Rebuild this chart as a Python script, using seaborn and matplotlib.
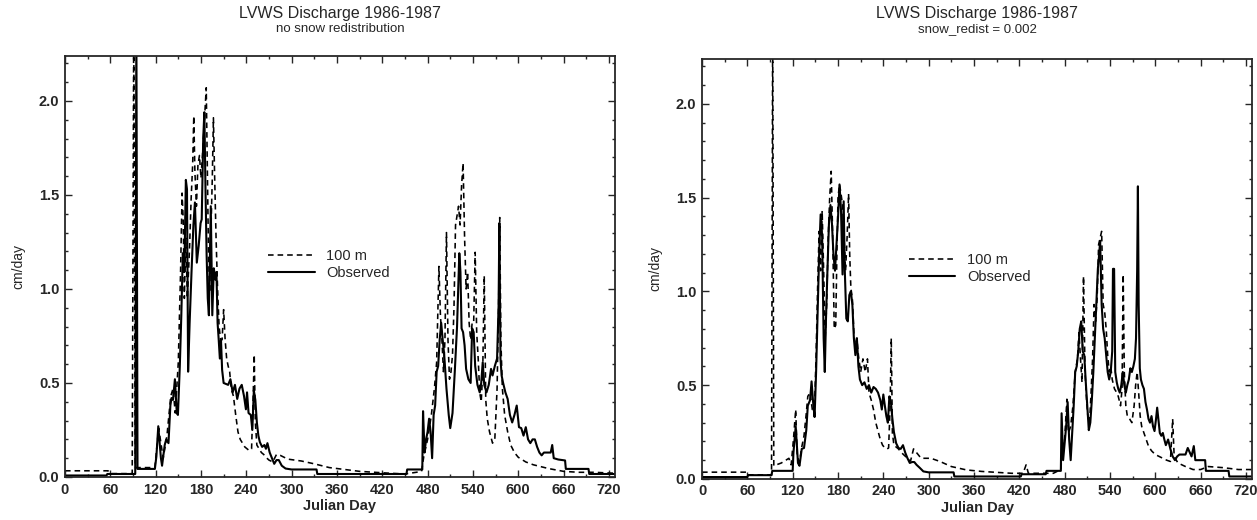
import matplotlib
matplotlib.use("Agg")
import matplotlib.pyplot as plt
from matplotlib.ticker import MultipleLocator
import seaborn as sns
import pandas as pd

# ---- data (Julian day, cm/day) ----
left_obs_day = [0, 55, 56, 93, 94.5, 96, 119, 121, 123.5, 127, 128.5, 132, 134, 137, 139.5, 141, 143,
                145.5, 148, 149.5, 152, 154, 156, 158, 160, 161.5, 163, 165, 167.5, 170, 172, 174.5,
                177, 179.5, 181, 183, 184.5, 186, 187.5, 189, 190.5, 193, 195, 197, 199, 200.5, 202,
                203.5, 205, 206.5, 208, 210, 213, 216, 219, 222, 225, 228, 231, 234, 237, 239.5, 241,
                243, 246, 248, 250, 252, 254, 256, 258, 261, 264, 266, 268, 271, 274, 277, 280, 283,
                287, 292, 300, 333, 334, 452, 453, 473, 474, 476, 478, 480, 482, 484, 486, 488, 490,
                492, 494, 496, 498, 500, 502, 505, 508, 510, 513, 516, 519, 522, 523.5, 525, 527, 529,
                531, 534, 537, 539, 541, 543, 546, 549, 551, 553, 555, 558, 561, 564, 566, 569, 572,
                574, 575, 576.5, 578, 580, 583, 586, 589, 592, 595, 598, 601, 604, 607, 610, 613, 616,
                619, 622, 625, 628, 631, 634, 643, 645, 647, 653, 662, 663, 693, 694, 728]
left_obs_val = [0.008, 0.008, 0.016, 0.016, 2.4, 0.043, 0.043, 0.11, 0.27, 0.10, 0.06, 0.17, 0.20, 0.18,
                0.38, 0.42, 0.41, 0.52, 0.34, 0.33, 0.59, 0.86, 1.19, 1.09, 1.58, 1.53, 0.56, 0.82, 1.09,
                1.34, 1.46, 1.14, 1.23, 1.35, 1.37, 1.80, 1.94, 1.53, 1.18, 0.95, 0.86, 1.44, 0.86, 1.11,
                1.05, 1.09, 0.82, 0.73, 0.63, 0.73, 0.57, 0.50, 0.495, 0.49, 0.52, 0.45, 0.49, 0.415,
                0.47, 0.49, 0.43, 0.36, 0.45, 0.34, 0.33, 0.25, 0.46, 0.41, 0.29, 0.22, 0.185, 0.16,
                0.17, 0.15, 0.18, 0.13, 0.10, 0.07, 0.09, 0.09, 0.06, 0.045, 0.04, 0.04, 0.016, 0.016,
                0.04, 0.04, 0.35, 0.13, 0.20, 0.24, 0.31, 0.24, 0.10, 0.33, 0.38, 0.56, 0.59, 0.73,
                0.82, 0.73, 0.65, 0.47, 0.33, 0.26, 0.34, 0.56, 0.80, 1.19, 1.09, 0.79, 0.77, 0.70,
                0.575, 0.52, 0.50, 0.79, 0.77, 0.59, 0.49, 0.45, 0.50, 0.61, 0.49, 0.45, 0.49, 0.575,
                0.54, 0.59, 0.63, 0.91, 1.35, 0.63, 0.54, 0.50, 0.45, 0.415, 0.33, 0.29, 0.33, 0.38,
                0.265, 0.26, 0.22, 0.265, 0.20, 0.18, 0.20, 0.20, 0.16, 0.13, 0.115, 0.13, 0.13, 0.17,
                0.10, 0.093, 0.088, 0.043, 0.043, 0.016, 0.016]

left_mod_day = [0, 57, 60, 89, 91, 93, 95, 119, 124, 130, 135, 140, 143, 146, 150, 153, 155, 156.5, 158,
                160, 162, 165, 167, 169, 170.5, 172, 174, 176, 178, 180, 182, 184, 186, 187, 188.5, 190,
                191.5, 193, 195, 196.5, 198, 200, 202, 204, 206, 208, 210, 212, 214, 216, 218, 220, 223,
                226, 229, 232, 235, 238, 241, 244, 247, 249, 250.5, 252, 254, 257, 260, 263, 266, 270,
                275, 280, 285, 295, 313, 330, 350, 370, 390, 410, 430, 450, 465, 472, 475, 480, 485,
                489, 492, 495, 497, 499, 501, 503, 505, 507, 509, 511, 513, 515, 517, 519, 521, 523,
                525, 527, 529, 531, 533, 535, 537, 539, 541, 543, 545, 547, 549, 551, 553, 555, 557,
                559, 562, 566, 569, 572, 574, 575.5, 577, 579, 582, 586, 590, 595, 600, 610, 620, 630,
                640, 660, 680, 700, 728]
left_mod_val = [0.033, 0.033, 0.018, 0.018, 2.4, 0.05, 0.05, 0.05, 0.26, 0.10, 0.22, 0.43, 0.47, 0.34,
                0.61, 1.09, 1.51, 1.37, 0.95, 1.27, 0.95, 1.23, 1.48, 1.66, 1.92, 1.62, 1.44, 1.66, 1.71,
                1.59, 1.71, 1.85, 1.98, 2.07, 1.62, 1.18, 0.98, 1.27, 1.59, 1.91, 1.62, 1.27, 1.0, 0.80,
                0.73, 0.73, 0.89, 0.73, 0.63, 0.59, 0.56, 0.47, 0.43, 0.33, 0.24, 0.20, 0.18, 0.16, 0.15,
                0.14, 0.15, 0.41, 0.65, 0.29, 0.17, 0.15, 0.13, 0.12, 0.105, 0.09, 0.08, 0.12, 0.115,
                0.095, 0.085, 0.07, 0.05, 0.04, 0.03, 0.025, 0.02, 0.016, 0.025, 0.03, 0.11, 0.20, 0.33,
                0.47, 0.61, 1.12, 0.86, 0.73, 0.56, 0.73, 1.30, 0.73, 0.52, 0.56, 0.65, 0.91, 1.34, 1.39,
                1.44, 1.34, 1.55, 1.67, 1.27, 1.0, 1.09, 0.82, 0.73, 0.82, 0.82, 1.195, 0.77, 0.63, 0.45,
                0.40, 0.56, 1.07, 0.41, 0.31, 0.24, 0.18, 0.20, 0.47, 0.91, 1.38, 0.73, 0.47, 0.33, 0.24,
                0.17, 0.13, 0.105, 0.08, 0.065, 0.055, 0.045, 0.03, 0.025, 0.025, 0.02]

right_obs_day = [0, 60, 61, 92, 93, 120, 121, 124, 127, 129, 132, 135, 138, 140, 143, 145, 147, 149, 151,
                 153, 155, 157, 159, 161, 162.5, 164, 166, 168, 170, 172, 174, 176, 178, 180, 182, 184,
                 186, 187.5, 189, 191, 193, 195, 197, 199, 201, 203, 205, 207, 209, 212, 215, 218, 221,
                 224, 227, 230, 233, 236, 238, 240, 242, 244, 246, 248, 250, 252, 254, 257, 260, 263,
                 266, 269, 272, 275, 278, 281, 284, 288, 293, 300, 333, 334, 422, 423, 455, 456, 475,
                 476, 478, 480, 482, 484, 486, 488, 490, 492, 494, 496, 498, 500, 502, 504, 506, 508,
                 510, 512, 514, 516, 518, 520, 522, 524, 526, 527, 529, 531, 533, 535, 537, 539, 541,
                 543, 544, 545.5, 547, 549, 551, 553, 555, 557, 559, 561, 563, 565, 567, 569, 571, 573,
                 574.5, 576, 577, 578, 579.5, 581, 583, 585, 587, 589, 591, 593, 595, 597, 599, 601,
                 602.5, 604, 606, 608, 610, 612, 614, 617, 620, 623, 626, 629, 632, 640, 643, 648, 651,
                 653, 666, 667, 697, 698, 728]
right_obs_val = [0.01, 0.01, 0.02, 0.02, 0.043, 0.043, 0.14, 0.28, 0.085, 0.07, 0.16, 0.165, 0.26, 0.39,
                 0.42, 0.52, 0.41, 0.33, 0.57, 0.89, 1.195, 1.41, 1.29, 0.75, 0.57, 0.84, 1.11, 1.36,
                 1.46, 1.36, 1.195, 1.11, 1.25, 1.39, 1.57, 1.43, 1.09, 1.48, 1.11, 0.855, 0.84, 0.98,
                 1.0, 0.93, 0.75, 0.66, 0.75, 0.60, 0.53, 0.50, 0.515, 0.48, 0.50, 0.46, 0.49, 0.48,
                 0.46, 0.42, 0.37, 0.45, 0.39, 0.335, 0.30, 0.44, 0.41, 0.32, 0.25, 0.19, 0.165, 0.16,
                 0.18, 0.14, 0.11, 0.085, 0.09, 0.09, 0.075, 0.06, 0.04, 0.035, 0.035, 0.013, 0.013,
                 0.025, 0.025, 0.043, 0.043, 0.35, 0.10, 0.19, 0.28, 0.41, 0.21, 0.10, 0.25, 0.39, 0.57,
                 0.60, 0.68, 0.80, 0.84, 0.68, 0.66, 0.515, 0.39, 0.26, 0.30, 0.42, 0.57, 0.75, 0.93,
                 1.12, 1.21, 1.27, 0.93, 0.80, 0.75, 0.66, 0.57, 0.53, 0.57, 0.68, 1.12, 1.12, 0.57,
                 0.515, 0.48, 0.46, 0.50, 0.57, 0.50, 0.46, 0.50, 0.53, 0.59, 0.57, 0.60, 0.64, 0.75,
                 1.11, 1.56, 0.93, 0.59, 0.53, 0.50, 0.48, 0.41, 0.37, 0.32, 0.30, 0.335, 0.28, 0.255,
                 0.32, 0.38, 0.32, 0.245, 0.23, 0.245, 0.21, 0.18, 0.21, 0.16, 0.12, 0.10, 0.12, 0.13,
                 0.13, 0.165, 0.12, 0.175, 0.10, 0.10, 0.043, 0.043, 0.013, 0.013]

right_mod_day = [0, 60, 61, 92, 93.5, 95, 105, 115, 118, 121, 124, 126, 129, 132, 135, 138, 140, 143, 146,
                 149, 151, 153, 155, 157, 159, 161, 163, 165, 167, 169, 171, 173, 175, 177, 178.5, 180,
                 182, 184, 186, 188, 190, 192, 194, 195.5, 197, 199, 201, 203, 205, 207, 210, 213, 216,
                 219, 221, 224, 227, 230, 233, 236, 239, 242, 245, 247, 249, 250.5, 252, 254, 257, 260,
                 264, 268, 272, 276, 280, 284, 290, 303, 315, 330, 350, 370, 390, 410, 425, 429, 432,
                 465, 475, 477, 480, 483, 485, 488, 491, 494, 497, 499, 501, 503, 505, 507, 509, 511,
                 513, 515, 517, 519, 521, 523, 525, 527, 529, 531, 533, 535, 537, 539, 541, 543, 546,
                 549, 551, 554, 556, 557.5, 559, 561, 563, 566, 569, 572, 574, 576, 578, 580, 582, 585,
                 588, 591, 595, 600, 605, 610, 615, 620, 623, 625, 630, 640, 650, 660, 670, 690, 710, 728]
right_mod_val = [0.036, 0.036, 0.022, 0.022, 2.4, 0.07, 0.085, 0.11, 0.075, 0.21, 0.37, 0.12, 0.09, 0.17,
                 0.23, 0.35, 0.44, 0.46, 0.37, 0.39, 0.66, 1.02, 1.32, 1.11, 1.43, 1.11, 0.75, 0.93,
                 1.285, 1.50, 1.64, 1.285, 0.80, 0.82, 1.195, 1.50, 1.57, 1.52, 1.46, 1.285, 1.11,
                 1.285, 1.52, 1.195, 1.02, 0.96, 0.78, 0.69, 0.75, 0.66, 0.57, 0.64, 0.57, 0.64, 0.46,
                 0.42, 0.37, 0.30, 0.255, 0.21, 0.18, 0.165, 0.16, 0.165, 0.39, 0.75, 0.245, 0.18, 0.17,
                 0.16, 0.14, 0.125, 0.11, 0.095, 0.16, 0.14, 0.11, 0.11, 0.093, 0.066, 0.048, 0.04,
                 0.035, 0.03, 0.03, 0.075, 0.03, 0.03, 0.05, 0.16, 0.21, 0.425, 0.245, 0.28, 0.39, 0.57,
                 0.64, 0.78, 0.64, 0.515, 1.08, 0.57, 0.425, 0.32, 0.30, 0.46, 0.64, 0.93, 0.84, 0.96,
                 1.25, 1.285, 1.32, 0.93, 0.89, 0.80, 0.66, 0.57, 0.60, 0.53, 0.48, 0.46, 0.44, 0.39,
                 0.48, 1.09, 0.57, 0.39, 0.335, 0.32, 0.30, 0.39, 0.50, 0.57, 0.46, 0.335, 0.28, 0.245,
                 0.21, 0.175, 0.15, 0.13, 0.12, 0.11, 0.10, 0.093, 0.32, 0.12, 0.085, 0.066, 0.05, 0.05,
                 0.066, 0.06, 0.05, 0.05]

titles = ["LVWS Discharge 1986-1987", "LVWS Discharge 1986-1987"]
subtitles = ["no snow redistribution", "snow_redist = 0.002"]
x_ticks = [0, 60, 120, 180, 240, 300, 360, 420, 480, 540, 600, 660, 720]
y_ticks = [0.0, 0.5, 1.0, 1.5, 2.0]

sns.set_style("ticks")
plt.rcParams["font.family"] = ["Liberation Sans", "DejaVu Sans"]

fig = plt.figure(figsize=(12.57, 5.2), dpi=100)
ax_left = fig.add_axes([0.0517, 0.0827, 0.4375, 0.810])
ax_right = fig.add_axes([0.5585, 0.0790, 0.4375, 0.808])

panels = [
    (ax_left, left_mod_day, left_mod_val, left_obs_day, left_obs_val, (0.345, 0.505)),
    (ax_right, right_mod_day, right_mod_val, right_obs_day, right_obs_val, (0.352, 0.50)),
]

for i, (ax, md, mv, od, ov, leg_pos) in enumerate(panels):
    mod = pd.DataFrame({"day": md, "q": mv})
    obs = pd.DataFrame({"day": od, "q": ov})
    sns.lineplot(data=mod, x="day", y="q", ax=ax, color="black", lw=1.15,
                 linestyle=(0, (3.5, 2.5)), estimator=None, sort=False, label="100 m")
    sns.lineplot(data=obs, x="day", y="q", ax=ax, color="black", lw=1.5,
                 estimator=None, sort=False, label="Observed")

    ax.set_xlim(0, 728)
    ax.set_ylim(0, 2.24)
    ax.set_xticks(x_ticks)
    ax.set_yticks(y_ticks)
    ax.set_yticklabels([f"{t:.1f}" for t in y_ticks])
    ax.xaxis.set_minor_locator(MultipleLocator(30))
    ax.yaxis.set_minor_locator(MultipleLocator(0.1))
    ax.tick_params(which="both", direction="in", top=True, right=True, width=1.0)
    ax.tick_params(which="major", length=5, labelsize=10.5, pad=4)
    ax.tick_params(which="minor", length=2.5)
    for lab in ax.get_xticklabels() + ax.get_yticklabels():
        lab.set_fontweight("bold")
    for sp in ax.spines.values():
        sp.set_linewidth(1.3)
        sp.set_visible(True)

    ax.set_xlabel("Julian Day", fontsize=10.5, fontweight="bold", labelpad=2)
    ax.set_ylabel("cm/day", fontsize=10, labelpad=10)

    ax.legend(loc="center left", bbox_to_anchor=leg_pos, frameon=False, fontsize=10.5,
              handlelength=3.2, handletextpad=0.8, labelspacing=0.2)

    pos = ax.get_position()
    cx = (pos.x0 + pos.x1) / 2
    fig.text(cx, 0.974, titles[i], ha="center", va="center", fontsize=11.5)
    fig.text(cx, 0.945, subtitles[i], ha="center", va="center", fontsize=9.5)

fig.savefig("out.png", dpi=100)
